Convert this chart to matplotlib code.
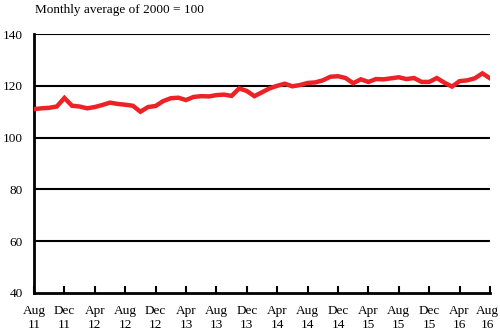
import numpy as np
import matplotlib.pyplot as plt
from matplotlib.transforms import ScaledTranslation

plt.rcParams['font.family'] = ['Liberation Serif', 'DejaVu Serif']

# monthly index, Aug 2011 .. Aug 2016 (2000 = 100)
values = [111.0, 111.3, 111.5, 112.0, 115.3, 112.3, 112.0, 111.3, 111.8, 112.6,
          113.5, 113.0, 112.7, 112.3, 110.0, 111.8, 112.2, 114.1, 115.2, 115.4,
          114.5, 115.7, 116.0, 115.9, 116.4, 116.6, 116.1, 119.0, 118.0, 116.0,
          117.5, 119.0, 120.0, 120.8, 119.8, 120.3, 121.1, 121.3, 122.1, 123.5,
          123.7, 123.0, 121.0, 122.5, 121.5, 122.6, 122.5, 122.9, 123.3, 122.6,
          123.0, 121.5, 121.5, 123.0, 121.2, 119.7, 121.8, 122.1, 122.9, 124.8,
          122.9]
tick_labels = ['Aug\n11', 'Dec\n11', 'Apr\n12', 'Aug\n12', 'Dec\n12', 'Apr\n13',
               'Aug\n13', 'Dec\n13', 'Apr\n14', 'Aug\n14', 'Dec\n14', 'Apr\n15',
               'Aug\n15', 'Dec\n15', 'Apr\n16', 'Aug\n16']
y_ticks = [40, 60, 80, 100, 120, 140]

months = np.arange(len(values))

fig = plt.figure(figsize=(5, 3.35), dpi=100)
ax = fig.add_axes([0.068, 0.1254, 0.912, 0.7731])

for yv in y_ticks[1:]:
    ax.axhline(yv, color='black', lw=1.5, zorder=1)

ax.plot(months, values, color='#ec2227', lw=3.2, solid_joinstyle='miter', zorder=3)

ax.set_xlim(0, len(values) - 1)
ax.set_ylim(40, 140)
ax.set_xticks(months[::4])
ax.set_xticklabels(tick_labels, fontsize=9.5, linespacing=1.2)
ax.set_yticks(y_ticks)
ax.set_yticklabels([str(v) for v in y_ticks], fontsize=9.5)

for side in ['top', 'right']:
    ax.spines[side].set_visible(False)
ax.spines['left'].set_linewidth(2)
ax.spines['bottom'].set_linewidth(2)
ax.tick_params(axis='x', direction='in', length=5, width=1.5, pad=9)
ax.tick_params(axis='y', length=0, pad=8)

# nudge the last label so it stays inside the figure
last = ax.get_xticklabels()[-1]
last.set_transform(last.get_transform() + ScaledTranslation(-2 / 72, 0, fig.dpi_scale_trans))

fig.text(0.070, 0.969, 'Monthly average of 2000 = 100', fontsize=9.5, va='center', ha='left')

fig.savefig('out.png', dpi=100)
